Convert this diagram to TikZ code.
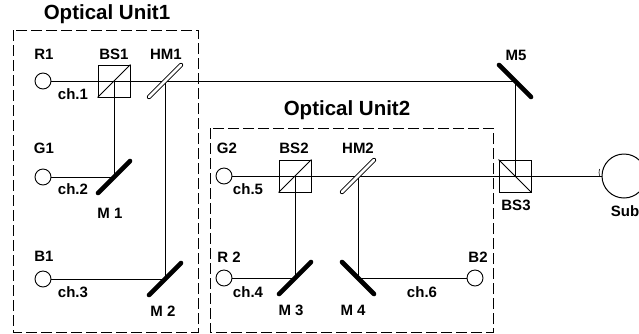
\documentclass[tikz,border=0pt]{standalone}
\usepackage{fontspec}
\setmainfont{Liberation Sans}
\usetikzlibrary{calc}
\tikzset{
	beam/.style={line width=0.9pt},
	unitbox/.style={line width=1pt, dash pattern=on 11pt off 4pt},
	source/.style={circle, draw, line width=0.9pt, minimum size=16pt, inner sep=0pt},
	splitter/.style={rectangle, draw, line width=0.85pt, minimum size=32pt, inner sep=0pt},
	mirror/.style={line width=4.6pt, line cap=round},
	halfmirror/.style={double, double distance=2.6pt, line width=0.9pt, line cap=round},
	lbl/.style={font=\bfseries\fontsize{15}{16}\selectfont, inner sep=0pt},
	unittitle/.style={font=\bfseries\fontsize{20.5}{22}\selectfont, inner sep=0pt}
}
\def\mirrorat[#1](#2)(#3,#4){\draw[#1] ($(#2)+(-#3,#4)$) -- ($(#2)+(#3,-#4)$);}

\begin{document}
\begin{tikzpicture}[x=1pt, y=-1pt]
			%%%%% START %%%%%
			\clip (0, 0) rectangle (639, 333);
			
			\draw[unitbox] (13, 30) rectangle (198, 332);
			\draw[unitbox] (210, 128) rectangle (493, 332);
			\node[unittitle] (title1) at (107, 14) {Optical Unit1};
			\node[unittitle] (title2) at (347, 110) {Optical Unit2};
			
			\node[source] (r1) at (43, 81) {};
			\node[source] (g1) at (43, 177) {};
			\node[source] (b1) at (43, 279) {};
			\node[source] (g2) at (224, 176) {};
			\node[source] (r2) at (224, 278) {};
			\node[source] (b2) at (475, 278) {};
			\node[circle, draw, line width=1pt, minimum size=44pt, inner sep=0pt] (sub) at (624, 176) {};
			
			\coordinate (bs1) at (114, 81);
			\coordinate (bs2) at (295, 176);
			\coordinate (bs3) at (515, 176);
			\coordinate (hm1) at (165, 81);
			\coordinate (hm2) at (358, 176);
			\coordinate (m1) at (114, 177);
			\coordinate (m2) at (165, 279);
			\coordinate (m3) at (295, 278);
			\coordinate (m4) at (358, 278);
			\coordinate (m5) at (515, 81);
			
			\draw[beam] (r1) -- (m5) -- (bs3);
			\draw[beam] (g1) -- (m1) -- (bs1);
			\draw[beam] (b1) -- (m2) -- (hm1);
			\draw[beam] (g2) -- (sub);
			\draw[beam] (r2) -- (m3) -- (bs2);
			\draw[beam] (b2) -- (m4) -- (hm2);
			
			\node[splitter] (bs1box) at (bs1) {};
			\node[splitter] (bs2box) at (bs2) {};
			\node[splitter] (bs3box) at (bs3) {};
			\draw[line width=1pt] (bs1box.south west) -- (bs1box.north east);
			\draw[line width=1pt] (bs2box.south west) -- (bs2box.north east);
			\draw[line width=1pt] (bs3box.north west) -- (bs3box.south east);
			
			\mirrorat[halfmirror](hm1)(16,16)
			\mirrorat[halfmirror](hm2)(16,16)
			\mirrorat[mirror](m1)(16,16)
			\mirrorat[mirror](m2)(16,16)
			\mirrorat[mirror](m3)(16,16)
			\mirrorat[mirror](m4)(16,-16)
			\mirrorat[mirror](m5)(16,-16)
			
			\draw[line width=0.6pt] (599.5, 169) arc (197:163:11.5);
			
			\node[lbl] (lr1) at (44, 54) {R1};
			\node[lbl] (lbs1) at (114, 54) {BS1};
			\node[lbl] (lhm1) at (166, 54) {HM1};
			\node[lbl] (lg1) at (44, 148) {G1};
			\node[lbl] (lb1) at (44, 256) {B1};
			\node[lbl] (lch1) at (73, 94) {ch.1};
			\node[lbl] (lch2) at (73, 189) {ch.2};
			\node[lbl] (lch3) at (73, 292) {ch.3};
			\node[lbl] (lm1) at (110, 213) {M 1};
			\node[lbl] (lm2) at (163, 311) {M 2};
			
			\node[lbl] (lg2) at (227, 148) {G2};
			\node[lbl] (lbs2) at (294, 148) {BS2};
			\node[lbl] (lhm2) at (358, 148) {HM2};
			\node[lbl] (lr2) at (229, 257) {R 2};
			\node[lbl] (lb2) at (478, 257) {B2};
			\node[lbl] (lch5) at (248, 189) {ch.5};
			\node[lbl] (lch4) at (248, 292) {ch.4};
			\node[lbl] (lch6) at (422, 292) {ch.6};
			\node[lbl] (lm3) at (291, 310) {M 3};
			\node[lbl] (lm4) at (353, 310) {M 4};
			
			\node[lbl] (lm5) at (516, 55) {M5};
			\node[lbl] (lbs3) at (516, 205) {BS3};
			\node[lbl] (lsub) at (625, 211) {Sub};
			%%%%% END %%%%%
		\end{tikzpicture}
\end{document}
